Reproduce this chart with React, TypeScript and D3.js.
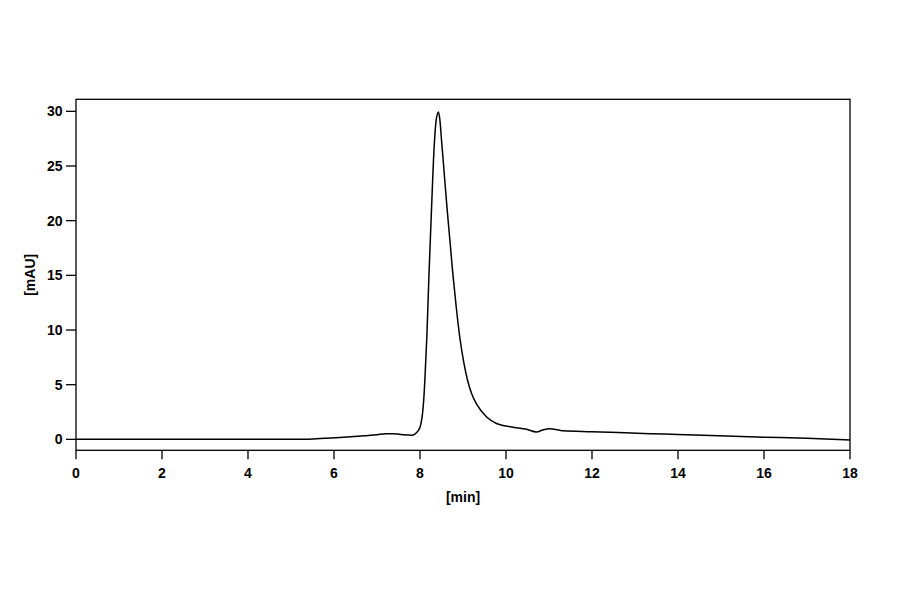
import React, { useLayoutEffect } from "react";
import * as d3 from "d3";

// Chromatogram trace: retention time [min] and absorbance [mAU]
const timeMin: number[] = [
  0, 2, 4, 5.0, 5.4, 5.8, 6.3, 6.7, 7.0, 7.2, 7.35, 7.55, 7.8, 7.88, 7.95, 8.0,
  8.03, 8.06, 8.09, 8.12, 8.16, 8.21, 8.27, 8.33, 8.38, 8.43, 8.46, 8.5, 8.57,
  8.63, 8.7, 8.76, 8.84, 8.93, 9.02, 9.1, 9.2, 9.32, 9.55, 9.78, 10.13,
  10.48, 10.71, 10.85, 11.02, 11.2, 11.33, 12, 13.35, 14, 16, 17, 18,
];
const signalMAU: number[] = [
  0, 0, 0, 0, 0.02, 0.1, 0.21, 0.33, 0.42, 0.52, 0.52, 0.45, 0.38, 0.48, 0.75, 1.1,
  1.6, 2.4, 3.8, 6.0, 9.5, 15.2, 21.3, 26.8, 29.3, 29.95, 29.3, 27.4, 24.0,
  21.1, 18.0, 15.3, 12.2, 9.2, 7.0, 5.5, 4.2, 3.2, 2.05, 1.45, 1.13,
  0.92, 0.67, 0.85, 0.98, 0.88, 0.78, 0.7, 0.52, 0.45, 0.2, 0.1, -0.05,
];
const xTicks: number[] = [0, 2, 4, 6, 8, 10, 12, 14, 16, 18];
const yTicks: number[] = [0, 5, 10, 15, 20, 25, 30];
const xTitle = "[min]";
const yTitle = "[mAU]";

const W = 900;
const H = 594;
const FONT = "'Liberation Sans', Arial, Helvetica, sans-serif";

export default function App() {
  useLayoutEffect(() => {
    document.body.style.margin = "0";
  }, []);

  const x = d3.scaleLinear().domain([0, 18]).range([76, 850]);
  const y = d3.scaleLinear().domain([-1, 31.1]).range([450.3, 99.3]);

  const pts: [number, number][] = timeMin.map((t, i) => [t, signalMAU[i]]);
  const line = d3
    .line<[number, number]>()
    .x((d) => x(d[0]))
    .y((d) => y(d[1]))
    .curve(d3.curveMonotoneX);

  const [x0, x1] = x.range();
  const [yb, yt] = y.range();

  return (
    <svg width={W} height={H} style={{ display: "block", background: "#fff" }}>
      <rect x={0} y={0} width={W} height={H} fill="#fff" />
      <path d={line(pts) || ""} fill="none" stroke="#000" strokeWidth={1.5} strokeLinejoin="round" />
      <rect x={x0} y={yt} width={x1 - x0} height={yb - yt} fill="none" stroke="#000" strokeWidth={1.3} />
      {xTicks.map((t) => (
        <g key={"x" + t}>
          <line x1={x(t)} x2={x(t)} y1={yb} y2={yb + 9} stroke="#000" strokeWidth={1.3} />
          <text x={x(t)} y={478} textAnchor="middle" fontFamily={FONT} fontWeight="bold" fontSize={14} fill="#000">
            {t}
          </text>
        </g>
      ))}
      {yTicks.map((t) => (
        <g key={"y" + t}>
          <line x1={x0 - 10} x2={x0} y1={y(t)} y2={y(t)} stroke="#000" strokeWidth={1.3} />
          <text x={62.5} y={y(t)} dy="0.36em" textAnchor="end" fontFamily={FONT} fontWeight="bold" fontSize={14} fill="#000">
            {t}
          </text>
        </g>
      ))}
      <text x={(x0 + x1) / 2} y={502} textAnchor="middle" fontFamily={FONT} fontWeight="bold" fontSize={14} fill="#000">
        {xTitle}
      </text>
      <text
        transform={`translate(35,${(yb + yt) / 2}) rotate(-90)`}
        textAnchor="middle"
        fontFamily={FONT}
        fontWeight="bold"
        fontSize={14}
        fill="#000"
      >
        {yTitle}
      </text>
    </svg>
  );
}
